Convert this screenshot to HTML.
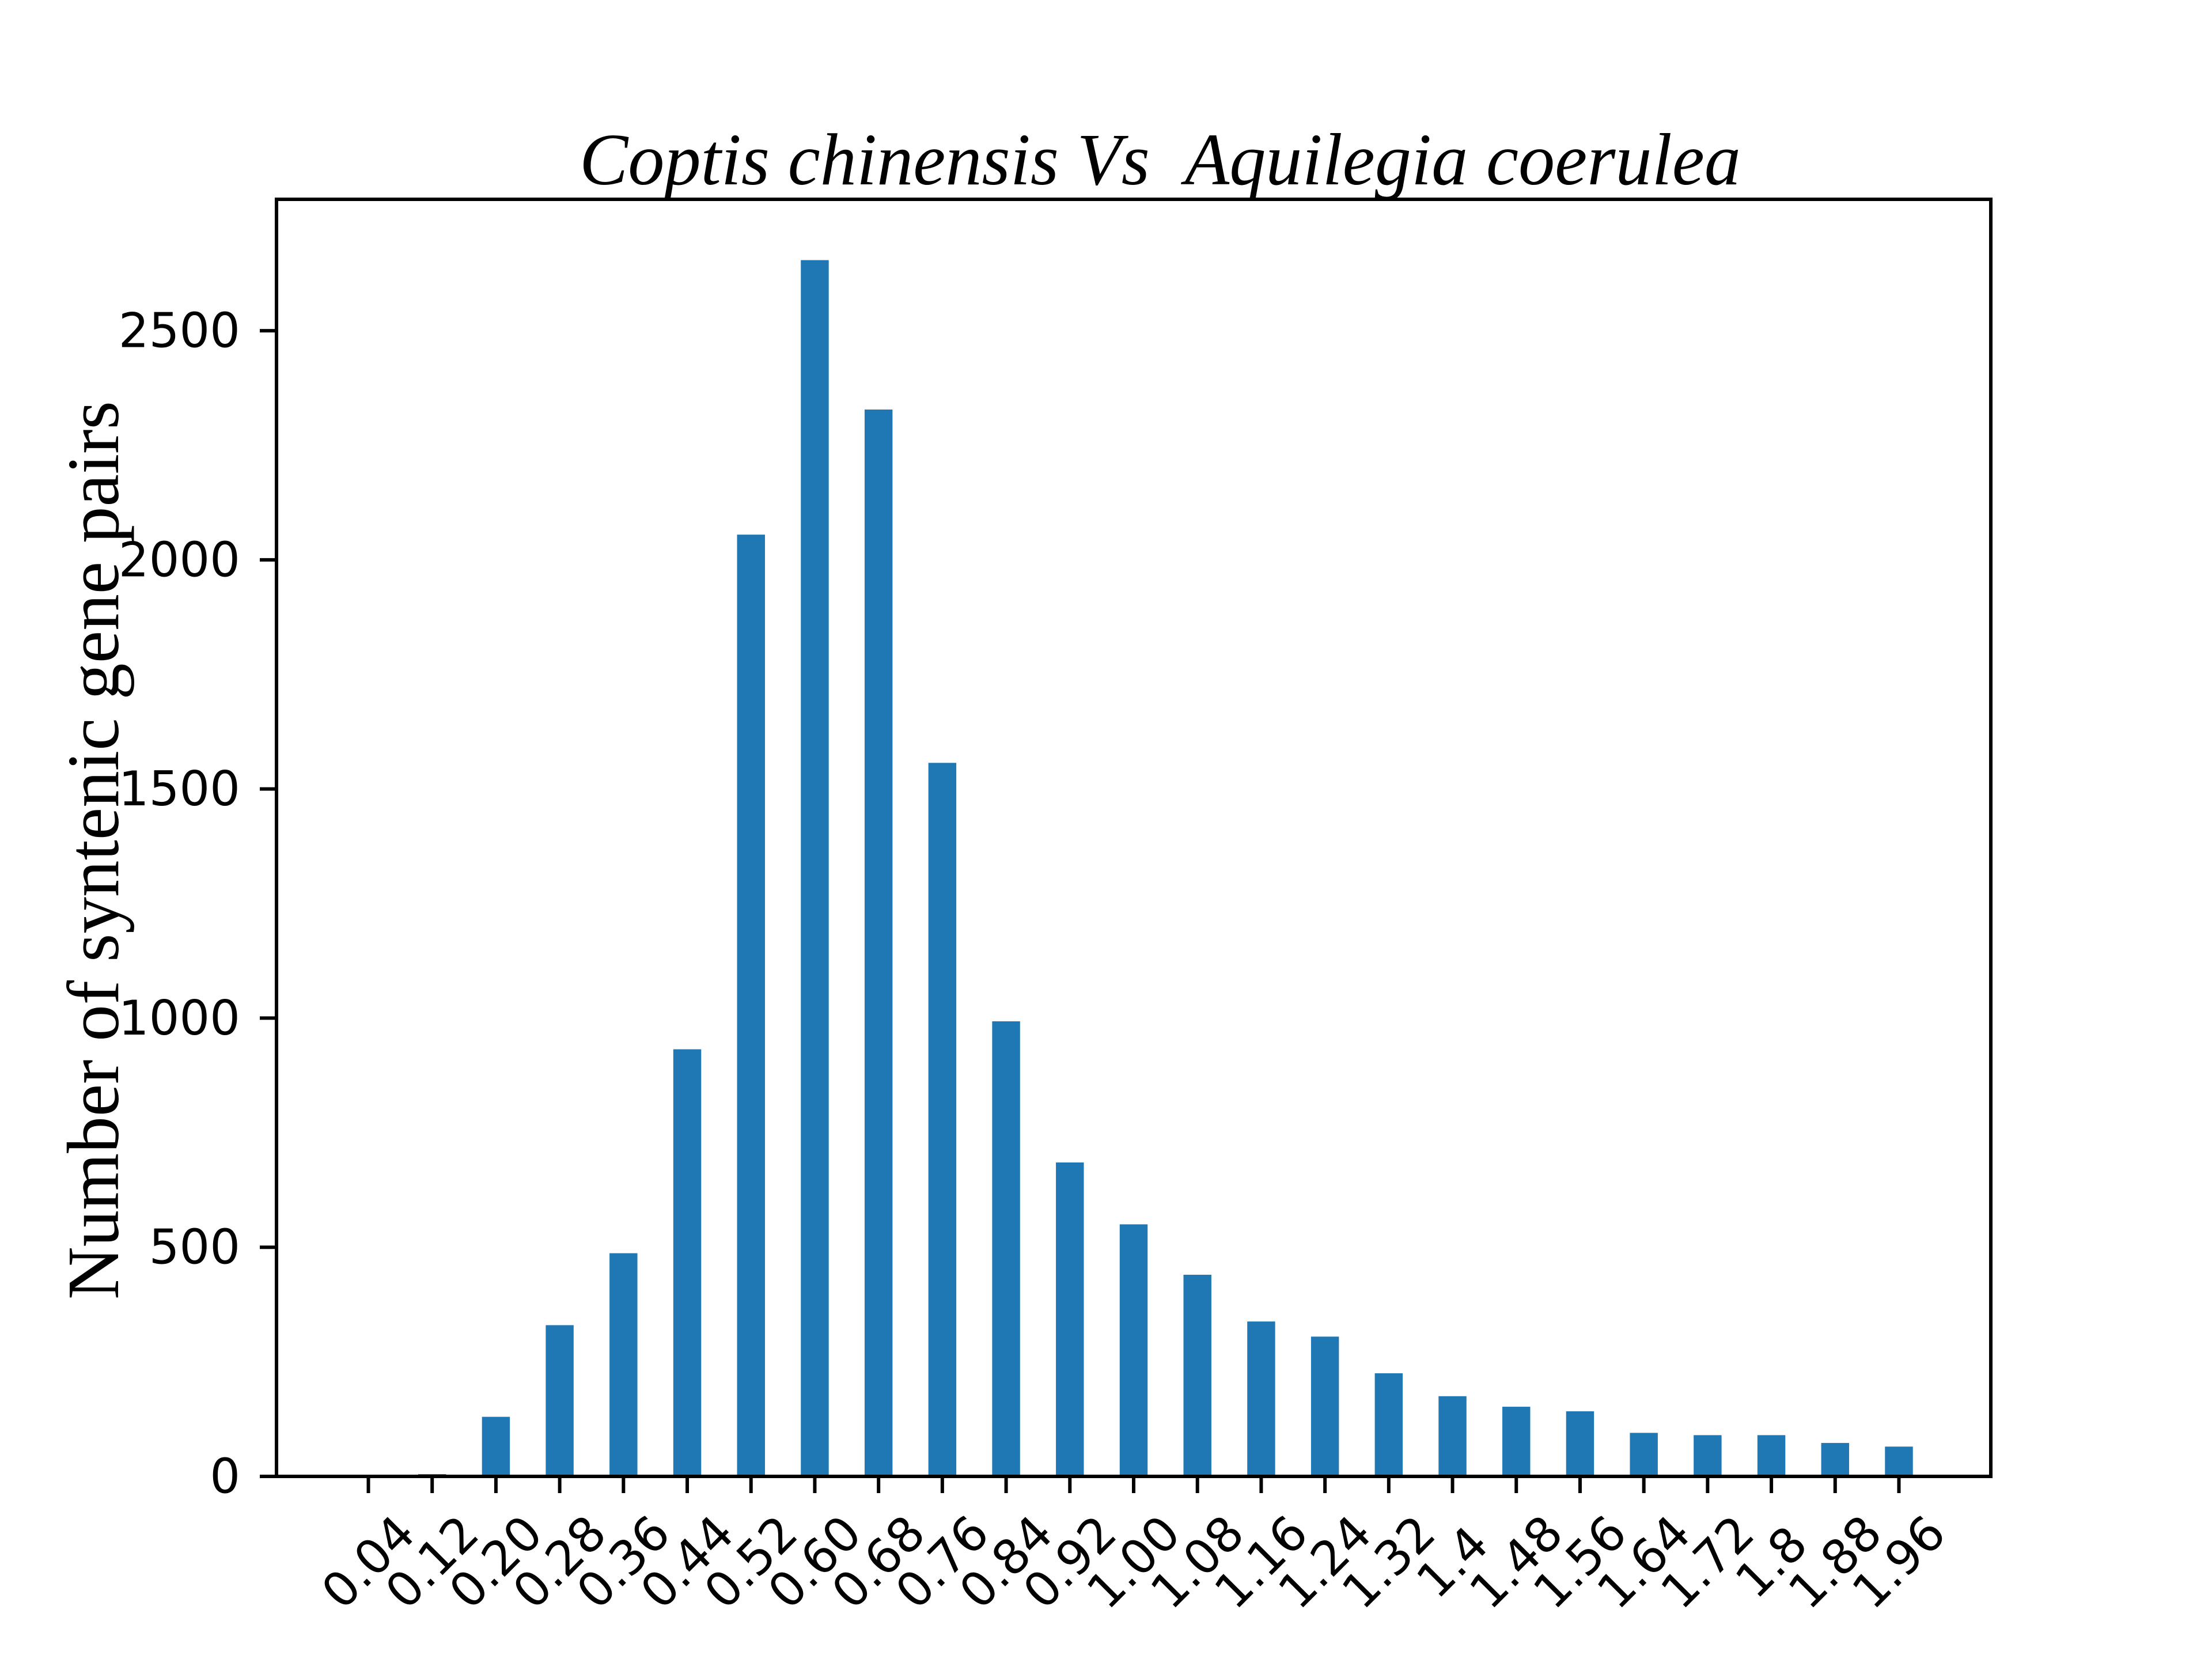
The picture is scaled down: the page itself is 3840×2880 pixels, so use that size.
<!DOCTYPE html>
<html><head><meta charset="utf-8"><style>
html,body{margin:0;padding:0;background:#fff;}
svg{display:block;}
</style></head><body>
<svg id="chart" xmlns="http://www.w3.org/2000/svg" width="3840" height="2880" viewBox="0 0 3840 2880">
<rect x="0" y="0" width="3840" height="2880" fill="#fff"/>
<text x="2014" y="320" text-anchor="middle" font-family="Liberation Serif, serif" font-style="italic" font-size="128" textLength="2016" lengthAdjust="spacingAndGlyphs" xml:space="preserve">Coptis chinensis Vs  Aquilegia coerulea</text>
<text transform="translate(205,1476) rotate(-90)" text-anchor="middle" font-family="Liberation Serif, serif" font-size="128" textLength="1560" lengthAdjust="spacingAndGlyphs">Number of syntenic gene pairs</text>
<g id="bars"></g>
<g id="xticks"></g>
<g id="yticks"></g>
<rect x="480" y="346" width="2976" height="2217" fill="none" stroke="#000" stroke-width="6"/>
</svg>
<script>
const categories = ["0.04","0.12","0.20","0.28","0.36","0.44","0.52","0.60","0.68","0.76","0.84","0.92","1.00","1.08","1.16","1.24","1.32","1.4","1.48","1.56","1.64","1.72","1.8","1.88","1.96"];
const counts = [0,5,130,330,487,932,2055,2654,2328,1557,993,685,550,440,338,305,225,175,152,142,95,90,90,73,65];
const yTicks = [0,500,1000,1500,2000,2500];

const NS = "http://www.w3.org/2000/svg";
const AX = {left:480, right:3456, top:346, bottom:2563};
const barW = 0.4375;
const n = categories.length;
const span = (n - 1) + barW;
const xMin = -barW/2 - 0.05*span, xMax = (n - 1) + barW/2 + 0.05*span;
const yMax = Math.max(...counts) * 1.05;
function xScale(i){ return AX.left + (i - xMin) / (xMax - xMin) * (AX.right - AX.left); }
function yScale(v){ return AX.bottom - v / yMax * (AX.bottom - AX.top); }
const pxPerUnit = (AX.right - AX.left) / (xMax - xMin);

const gb = document.getElementById('bars');
counts.forEach((v, i) => {
  const r = document.createElementNS(NS, 'rect');
  r.setAttribute('x', xScale(i) - barW/2*pxPerUnit);
  r.setAttribute('y', yScale(v));
  r.setAttribute('width', barW*pxPerUnit);
  r.setAttribute('height', AX.bottom - yScale(v));
  r.setAttribute('fill', '#1f77b4');
  
  
  gb.appendChild(r);
});

const gx = document.getElementById('xticks');
categories.forEach((c, i) => {
  const x = xScale(i);
  const l = document.createElementNS(NS, 'line');
  l.setAttribute('x1', x); l.setAttribute('x2', x);
  l.setAttribute('y1', AX.bottom); l.setAttribute('y2', AX.bottom + 29);
  l.setAttribute('stroke', '#000'); l.setAttribute('stroke-width', '6');
  
  
  gx.appendChild(l);
  const t = document.createElementNS(NS, 'text');
  t.setAttribute('transform', 'translate(' + x + ',2712) rotate(-45)');
  t.setAttribute('text-anchor', 'middle');
  t.setAttribute('dominant-baseline', 'central');
  t.setAttribute('font-family', 'DejaVu Sans, sans-serif');
  t.setAttribute('font-size', '83');
  t.textContent = c;
  
  
  gx.appendChild(t);
});

const gy = document.getElementById('yticks');
yTicks.forEach(v => {
  const y = yScale(v);
  const l = document.createElementNS(NS, 'line');
  l.setAttribute('x1', AX.left - 29); l.setAttribute('x2', AX.left);
  l.setAttribute('y1', y); l.setAttribute('y2', y);
  l.setAttribute('stroke', '#000'); l.setAttribute('stroke-width', '6');
  
  
  gy.appendChild(l);
  const t = document.createElementNS(NS, 'text');
  t.setAttribute('x', 417);
  t.setAttribute('y', y);
  t.setAttribute('text-anchor', 'end');
  t.setAttribute('dominant-baseline', 'central');
  t.setAttribute('font-family', 'DejaVu Sans, sans-serif');
  t.setAttribute('font-size', '83');
  t.textContent = String(v);
  
  
  gy.appendChild(t);
});
</script>
</body></html>
